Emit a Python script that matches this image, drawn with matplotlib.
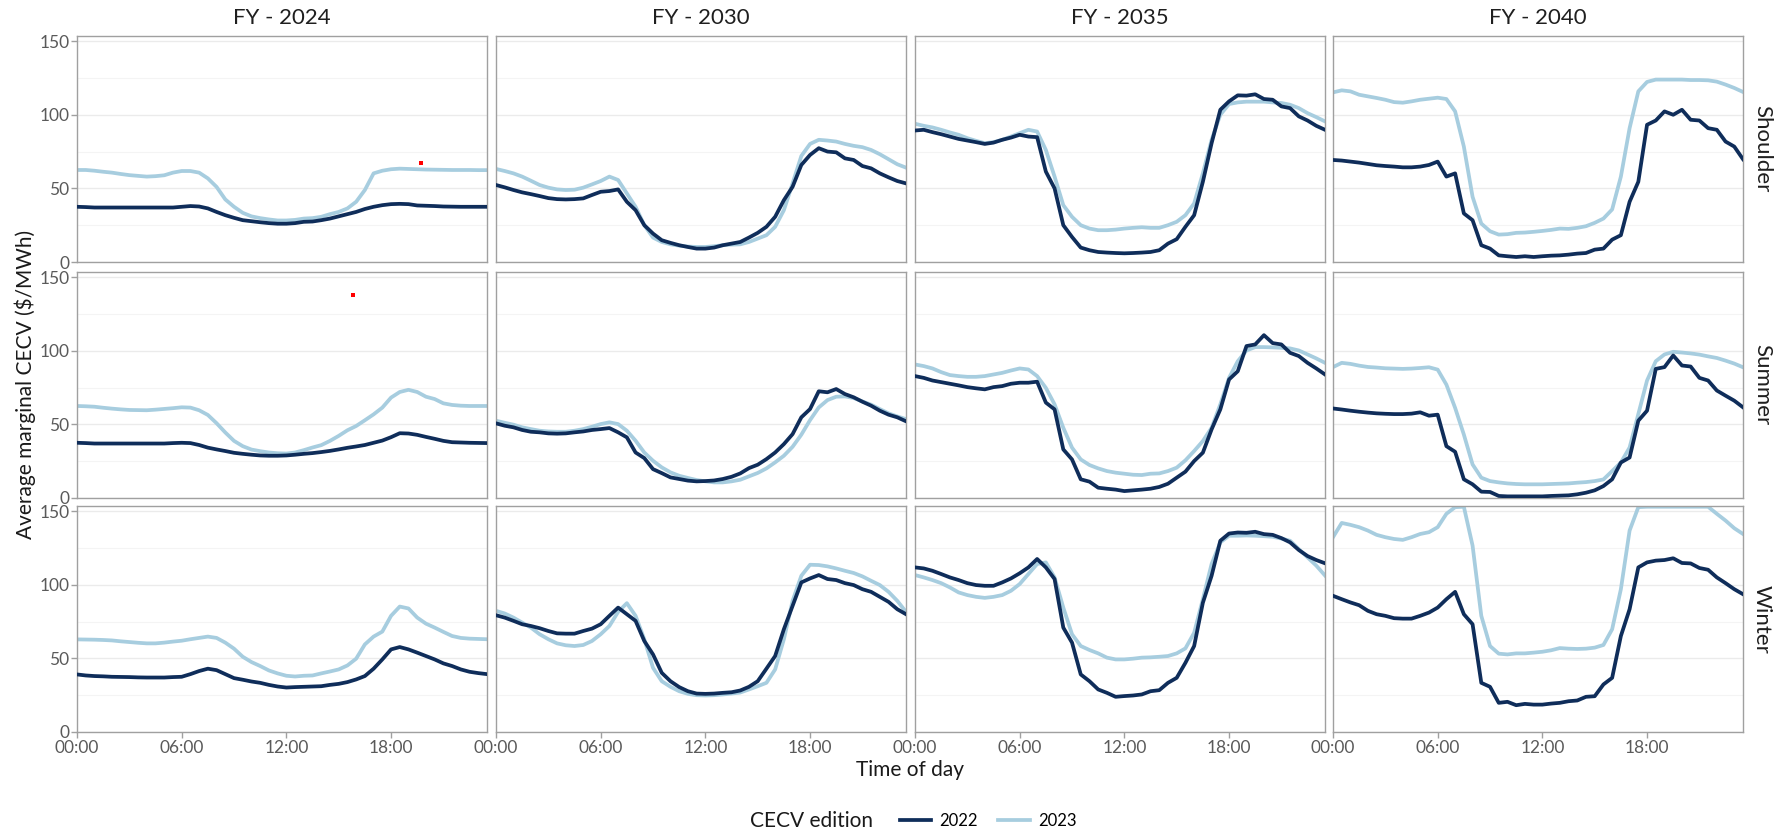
"""
CECV 日内プロファイル: 季節 x 年度 の 3x4 ファセット
"""
import numpy as np
import matplotlib
matplotlib.use("Agg")
import matplotlib.pyplot as plt

plt.rcParams["font.family"] = ["Lato", "DejaVu Sans"]

HOURS = np.arange(48) / 2  # 00:00 .. 23:30
YEARS = ["FY - 2024", "FY - 2030", "FY - 2035", "FY - 2040"]
SEASONS = ["Shoulder", "Summer", "Winter"]
EDITIONS = ["2022", "2023"]
X_TICKS = [0, 6, 12, 18]
X_TICK_LABELS = ["00:00", "06:00", "12:00", "18:00"]
Y_TICKS = [0, 50, 100, 150]

# --- Shoulder ---
shoulder_2024_e2022 = [37.5, 37.3, 37, 37, 37, 37, 37, 37, 37, 37, 37, 37,
                       37.5, 38, 37.7, 36.4, 34, 31.8, 30, 28.4, 27.7, 27, 26.4, 26,
                       26, 26.4, 27.3, 27.5, 28.4, 29.5, 31, 32.5, 34, 36, 37.5, 38.6,
                       39.3, 39.5, 39.3, 38.4, 38.2, 38, 37.7, 37.6, 37.5, 37.5, 37.5, 37.5]
shoulder_2024_e2023 = [62.5, 62.5, 62, 61.3, 60.7, 59.8, 59, 58.5, 58, 58.3, 58.9, 60.7,
                       61.8, 61.8, 60.7, 56.8, 51, 42.5, 37.5, 33.4, 31, 29.8, 28.9, 28.2,
                       28.2, 28.6, 29.5, 29.8, 30.7, 32.5, 34, 36.4, 40.9, 48.9, 60.2, 62,
                       63, 63.4, 63.2, 63, 62.8, 62.7, 62.6, 62.5, 62.5, 62.5, 62.4, 62.4]
shoulder_2030_e2022 = [52.3, 50.7, 48.9, 47.3, 46.1, 44.8, 43.4, 42.7, 42.5, 42.7, 43.2, 45.5,
                       47.7, 48.2, 49.3, 40.9, 35.2, 25, 19.3, 14.8, 13, 11.4, 10.2, 9.1,
                       9.1, 9.8, 11.4, 12.5, 13.6, 16.6, 19.8, 23.9, 30.7, 42, 51.1, 65.9,
                       72.7, 77.3, 75, 74.5, 70.4, 69.3, 65.2, 63.6, 60.2, 57.5, 55, 53.4]
shoulder_2030_e2023 = [63.2, 61.8, 60.2, 58, 55.2, 52.3, 50.5, 49.3, 48.9, 49.1, 50.5, 52.7,
                       55, 58, 55.7, 46.6, 37.5, 25, 16.6, 13.6, 12, 11.1, 10.5, 10.2,
                       10.2, 10.7, 11.4, 11.8, 12, 13.6, 15.9, 18.2, 23.9, 35.2, 53.4, 72,
                       80.2, 83, 82.5, 81.8, 80.2, 78.9, 78, 76.1, 73.2, 69.8, 66.4, 64.1]
shoulder_2035_e2022 = [89.3, 89.8, 88.2, 86.8, 85.2, 83.6, 82.5, 81.4, 80.2, 81.1, 83, 84.5,
                       86.4, 85.2, 84.8, 61.4, 50, 25, 17, 9.8, 8, 6.8, 6.4, 6.1,
                       5.9, 6.1, 6.4, 6.8, 8, 12.5, 15.5, 23.9, 31.8, 54.5, 80.7, 103.4,
                       109.1, 113.2, 113, 113.9, 110.7, 110.2, 105.7, 104.5, 98.9, 96.1, 92.5, 89.8]
shoulder_2035_e2023 = [93.9, 92.5, 91.4, 89.8, 88, 86.4, 84.1, 82.3, 80.7, 81.4, 83, 85.2,
                       87.5, 89.8, 88.6, 76.1, 58, 38.6, 30.7, 25, 22.7, 21.6, 21.6, 22,
                       22.7, 23.2, 23.6, 23.2, 23.2, 25, 27.3, 31.8, 39.8, 60.2, 83, 100,
                       107.3, 108.4, 108.9, 108.9, 108.9, 108.4, 108, 106.8, 104.5, 101.1, 98.4, 95.5]
shoulder_2040_e2022 = [69.3, 68.9, 68.2, 67.5, 66.6, 65.7, 65.2, 64.8, 64.3, 64.3, 64.8, 65.9,
                       68.2, 58, 60.2, 33, 28.4, 11.4, 9.1, 4.5, 3.9, 3.4, 3.9, 3.4,
                       3.9, 4.3, 4.5, 5, 5.7, 6.1, 8.4, 9.1, 15.2, 18.2, 40.9, 54.5,
                       93.2, 96.1, 102.3, 100, 103.4, 96.6, 96.1, 90.9, 89.8, 81.8, 78.4, 69.8]
shoulder_2040_e2023 = [115.2, 116.6, 115.9, 113.6, 112.5, 111.4, 110.2, 108.6, 108.2, 109.1, 110.2, 110.9,
                       111.6, 110.7, 102.3, 78.4, 44.3, 26.1, 20.9, 18.6, 18.9, 19.8, 20, 20.5,
                       21.1, 21.8, 22.7, 22.5, 23.2, 24.3, 26.6, 29.5, 35.7, 58, 90.9, 115.9,
                       122.3, 123.9, 123.9, 123.9, 123.9, 123.6, 123.6, 123.4, 122.5, 120.5, 118.2, 115.5]

# --- Summer ---
summer_2024_e2022 = [37.5, 37.3, 37, 37, 37, 37, 37, 37, 37, 37, 37, 37.3,
                     37.5, 37.3, 36, 34.2, 33, 31.9, 30.7, 30, 29.4, 28.9, 28.7, 28.7,
                     28.9, 29.4, 30, 30.5, 31.2, 32, 33, 34.1, 35, 36, 37.5, 39,
                     41.3, 44, 43.8, 42.9, 41.5, 40.2, 38.8, 37.9, 37.7, 37.5, 37.4, 37.3]
summer_2024_e2023 = [62.5, 62.3, 62, 61.3, 60.7, 60.2, 59.8, 59.7, 59.6, 60, 60.5, 61,
                     61.6, 61.4, 59.6, 56.4, 50.8, 44.5, 38.8, 35.2, 32.9, 31.8, 30.9, 30.4,
                     30.2, 30.9, 32.5, 34.3, 35.9, 38.8, 42.2, 46, 48.9, 52.8, 56.8, 61.4,
                     68.2, 72, 73.5, 72, 68.8, 67.2, 64.3, 63.2, 62.7, 62.5, 62.5, 62.5]
summer_2030_e2022 = [50.7, 49.1, 48, 46.2, 45, 44.6, 43.9, 43.7, 43.9, 44.6, 45.2, 46.2,
                     46.8, 47.5, 44.6, 41.2, 30.9, 27.1, 19.6, 16.9, 14, 12.9, 11.8, 11.3,
                     11.5, 11.9, 12.9, 14.4, 16.7, 20.3, 22.6, 26.4, 30.9, 36.6, 43.4, 54.8,
                     60.4, 72.5, 71.8, 74, 70.6, 68.4, 65.4, 62.7, 59.3, 56.6, 54.8, 52.1]
summer_2030_e2023 = [52.5, 51.1, 49.8, 48, 46.8, 45.7, 45.2, 45, 45, 45.7, 46.8, 48.4,
                     50.2, 51.4, 50.2, 45.7, 38.9, 30.9, 25.3, 20.8, 17.4, 15.1, 13.6, 12.2,
                     11.3, 10.6, 10.6, 11.3, 12.4, 14.7, 17, 20.1, 24.2, 28.7, 34.8, 43,
                     52.9, 61.5, 66.5, 68.8, 69, 67.9, 65.6, 63.4, 60.4, 57.5, 55.4, 53.6]
summer_2035_e2022 = [82.8, 81.6, 79.8, 78.7, 77.6, 76.5, 75.3, 74.5, 73.8, 75.3, 76, 77.6,
                     78.3, 78.3, 79, 64.8, 60.2, 33, 26.2, 12.7, 11.1, 7, 6.3, 5.7,
                     4.7, 5.2, 5.7, 6.3, 7.5, 9.7, 13.8, 17.9, 25.1, 30.8, 46.6, 60.2,
                     80.5, 86.1, 103.2, 104.3, 110.6, 105.2, 104.3, 98.6, 96.4, 91.8, 88, 83.9]
summer_2035_e2023 = [90.7, 89.6, 88, 85.5, 83.5, 82.8, 82.3, 82.3, 82.8, 83.9, 85, 86.6,
                     88, 87.3, 82.8, 74.8, 63.6, 47.7, 34.2, 26.2, 22.4, 20.1, 18.3, 17.2,
                     16.5, 15.8, 15.6, 16.5, 16.7, 18.3, 20.6, 25.6, 31.9, 38.7, 47.7, 63.6,
                     81.6, 92.9, 100.2, 102.5, 102.5, 102.3, 102, 101.6, 100.2, 97.5, 94.8, 91.8]
summer_2040_e2022 = [60.8, 60.1, 59.3, 58.6, 58, 57.5, 57.2, 57, 57, 57.3, 58.2, 55.9,
                     56.6, 35.2, 31.4, 12.7, 9.3, 4.3, 4.1, 1.4, 1.1, 1.1, 1.1, 1.1,
                     1.1, 1.4, 1.6, 1.8, 2.5, 3.6, 5.2, 8.1, 12.7, 24.1, 27.5, 52.5,
                     59.3, 87.7, 88.9, 96.8, 90, 89.3, 81.6, 79.8, 73, 69.5, 66.1, 61.6]
summer_2040_e2023 = [88.9, 91.8, 91.1, 89.9, 89, 88.6, 88.1, 87.9, 87.7, 87.9, 88.3, 88.8,
                     87.2, 77, 61.2, 43.1, 22.8, 13.8, 11.5, 10.6, 9.9, 9.5, 9.3, 9.3,
                     9.3, 9.5, 9.7, 9.9, 10.4, 10.8, 11.5, 12.6, 18.3, 24.1, 34.3, 57,
                     79.8, 92.9, 97.5, 99.3, 98.8, 98.2, 97.4, 96.2, 95.1, 93.3, 91.3, 88.8]

# --- Winter ---
winter_2024_e2022 = [39.1, 38.4, 38, 37.8, 37.5, 37.4, 37.3, 37.1, 37, 37, 37, 37.3,
                     37.5, 39.3, 41.4, 43, 42, 39.3, 36.6, 35.5, 34.3, 33.4, 32, 30.9,
                     30.2, 30.5, 30.7, 30.9, 31.1, 32, 32.7, 33.9, 35.7, 38, 43, 49.3,
                     56.1, 57.7, 56.1, 53.9, 51.6, 49.3, 46.6, 44.8, 42.5, 40.9, 40, 39.3]
winter_2024_e2023 = [62.9, 62.8, 62.7, 62.5, 62.2, 61.6, 61.1, 60.6, 60.2, 60.2, 60.7, 61.4,
                     62, 63, 63.9, 64.8, 63.9, 60.7, 56.6, 51.1, 47.5, 44.8, 41.8, 39.8,
                     38.2, 37.7, 38.2, 38.4, 39.8, 41.1, 42.5, 45.2, 49.8, 59.5, 64.8, 68.2,
                     78.9, 85.2, 83.9, 77.7, 73.6, 70.9, 68, 65.2, 63.9, 63.4, 63.2, 63]
winter_2030_e2022 = [79.3, 77.7, 75.5, 73.2, 72, 70.5, 68.6, 67, 66.8, 66.8, 68.6, 70.2,
                     73.2, 78.9, 84.5, 80, 75.5, 61.8, 52.7, 40.2, 34.5, 30.5, 27.7, 26.1,
                     25.9, 26.1, 26.6, 27, 28.2, 30.7, 34.5, 43, 51.6, 69.8, 85.7, 101.6,
                     104.3, 106.6, 103.9, 103.2, 101.1, 99.8, 97, 95.2, 91.8, 88.4, 83.4, 80]
winter_2030_e2023 = [82.3, 80.5, 77.7, 74.3, 70.9, 66.4, 63, 60.2, 58.9, 58.4, 59.1, 61.8,
                     66.4, 72, 81.6, 87.5, 78.9, 63, 43.6, 34.5, 30.7, 27.7, 25.9, 25,
                     24.8, 25, 25.5, 26.1, 26.8, 28.9, 31.1, 33.4, 42.5, 63, 89.1, 106.1,
                     113.6, 113.4, 112.5, 111.1, 109.5, 108, 105.7, 102.7, 99.8, 95.2, 89.1, 81.6]
winter_2035_e2022 = [111.8, 111.1, 109.5, 107.3, 105, 103.2, 101.1, 99.8, 99.3, 99.3, 101.6, 104.3,
                     107.8, 111.8, 117.5, 111.8, 103.9, 70.9, 60.7, 39.1, 34.5, 28.9, 26.6, 23.9,
                     24.4, 24.8, 25.5, 27.7, 28.4, 33.4, 36.8, 47, 58.4, 87.8, 106.1, 129.9,
                     134.8, 135.5, 135.3, 136, 134.4, 133.9, 131.7, 128.8, 123.6, 119.5, 116.8, 114.6]
winter_2035_e2023 = [106.6, 105, 103.2, 101.1, 98.2, 94.8, 93, 91.8, 91.1, 91.8, 93, 95.9,
                     100.5, 107.3, 114.1, 115.2, 105, 84.5, 66.4, 58.4, 55.7, 53.4, 50.5, 49.3,
                     49.3, 49.8, 50.5, 50.7, 51.1, 51.6, 53.4, 56.8, 67.4, 90.2, 114.1, 128.8,
                     133.3, 133.3, 133.5, 133.3, 133, 132.6, 131.4, 129.9, 124.2, 118.6, 113, 106.3]
winter_2040_e2022 = [92.5, 90.2, 88, 86.1, 82.3, 80, 78.9, 77.3, 77, 77, 78.9, 81.1,
                     84.5, 90.2, 95.2, 80, 73.2, 33.4, 30.7, 19.8, 20.5, 18.2, 19.1, 18.6,
                     18.6, 19.3, 19.8, 20.9, 21.4, 23.9, 24.3, 32.3, 36.8, 65.2, 83.4, 111.8,
                     115.2, 116.4, 116.8, 118, 114.8, 114.5, 111.4, 110.2, 105, 101.1, 97, 93.6]
winter_2040_e2023 = [132.3, 142, 140.7, 139.1, 136.8, 133.9, 132.3, 131.1, 130.5, 132.3, 134.5, 135.7,
                     139.1, 148.2, 152.7, 153, 126.6, 78.9, 58.4, 53.2, 52.7, 53.4, 53.4, 53.9,
                     54.5, 55.5, 57, 56.6, 56.4, 56.6, 57.3, 59.1, 69.8, 97, 136.8, 152.7,
                     153, 153, 153, 153, 153, 153, 153, 153, 148.2, 143.6, 138.4, 134.5]

# 赤い小点（元図にある注記点）
marker_shoulder_2024 = ([19.7], [67.3])
marker_summer_2024 = ([15.8], [138.2])

SERIES = {
    ("Shoulder", 0): (shoulder_2024_e2022, shoulder_2024_e2023),
    ("Shoulder", 1): (shoulder_2030_e2022, shoulder_2030_e2023),
    ("Shoulder", 2): (shoulder_2035_e2022, shoulder_2035_e2023),
    ("Shoulder", 3): (shoulder_2040_e2022, shoulder_2040_e2023),
    ("Summer", 0): (summer_2024_e2022, summer_2024_e2023),
    ("Summer", 1): (summer_2030_e2022, summer_2030_e2023),
    ("Summer", 2): (summer_2035_e2022, summer_2035_e2023),
    ("Summer", 3): (summer_2040_e2022, summer_2040_e2023),
    ("Winter", 0): (winter_2024_e2022, winter_2024_e2023),
    ("Winter", 1): (winter_2030_e2022, winter_2030_e2023),
    ("Winter", 2): (winter_2035_e2022, winter_2035_e2023),
    ("Winter", 3): (winter_2040_e2022, winter_2040_e2023),
}
MARKERS = {("Shoulder", 0): marker_shoulder_2024, ("Summer", 0): marker_summer_2024}

COLORS = {"2022": "#0F2D5A", "2023": "#A7CDDF"}
BORDER = "#A0A0A0"

W, H = 1776, 835
PANEL_LEFT = [77, 496, 915, 1333]
PANEL_TOP = [36, 272, 506]
PANEL_W, PANEL_H = 410, 226


def px_rect(left, top, w, h):
    return [left / W, 1 - (top + h) / H, w / W, h / H]


fig = plt.figure(figsize=(W / 100, H / 100), dpi=100)
handles = []

for r, season in enumerate(SEASONS):
    for c, year in enumerate(YEARS):
        ax = fig.add_axes(px_rect(PANEL_LEFT[c], PANEL_TOP[r], PANEL_W, PANEL_H))
        e22, e23 = SERIES[(season, c)]
        l1, = ax.plot(HOURS, e22, color=COLORS["2022"], lw=2.7, label="2022",
                      solid_joinstyle="round", zorder=3)
        l2, = ax.plot(HOURS, e23, color=COLORS["2023"], lw=2.7, label="2023",
                      solid_joinstyle="round", zorder=2)
        if not handles:
            handles = [l1, l2]
        if (season, c) in MARKERS:
            mx, my = MARKERS[(season, c)]
            ax.scatter(mx, my, s=5, marker="s", color="red", lw=0, zorder=4)

        ax.set_xlim(0, 23.5)
        ax.set_ylim(0, 153.5)
        ax.set_xticks(X_TICKS)
        ax.set_yticks(Y_TICKS)
        ax.set_yticks([25, 75, 125], minor=True)
        ax.grid(axis="y", which="major", color="#EBEBEB", lw=1.0)
        ax.grid(axis="y", which="minor", color="#F4F4F4", lw=0.8)
        ax.set_axisbelow(True)
        for sp in ax.spines.values():
            sp.set_color(BORDER)
            sp.set_linewidth(1.0)
        ax.tick_params(which="minor", length=0)
        ax.tick_params(which="major", color=BORDER, length=4, width=1,
                       labelcolor="#5A5A5A", labelsize=12.5, pad=1.5)

        if c == 0:
            ax.set_yticklabels([str(v) for v in Y_TICKS])
        else:
            ax.tick_params(axis="y", length=0, labelleft=False)
        if r == len(SEASONS) - 1:
            ax.set_xticklabels(X_TICK_LABELS)
        else:
            ax.tick_params(axis="x", length=0, labelbottom=False)

        # ファセットのストリップ
        if r == 0:
            fig.text((PANEL_LEFT[c] + PANEL_W / 2) / W, 1 - 18 / H, year,
                     ha="center", va="center", fontsize=16, color="#1F1F1F")
        if c == len(YEARS) - 1:
            fig.text(1762 / W, 1 - (PANEL_TOP[r] + PANEL_H / 2) / H, season,
                     ha="center", va="center", rotation=-90, fontsize=16, color="#1F1F1F")

fig.text(25 / W, 1 - 384 / H, "Average marginal CECV ($/MWh)", rotation=90,
         ha="center", va="center", fontsize=15, color="#1A1A1A")
fig.text(910 / W, 1 - 770 / H, "Time of day", ha="center", va="center",
         fontsize=15, color="#1A1A1A")

# 凡例（タイトルは左側に横並び）
LEG_Y = 1 - 821 / H
fig.text(750 / W, LEG_Y, "CECV edition", ha="left", va="center",
         fontsize=15, color="#1A1A1A")
fig.legend(handles, EDITIONS, loc="center left", bbox_to_anchor=(893 / W, LEG_Y),
           ncol=2, frameon=False, fontsize=12, handlelength=1.9, handletextpad=0.5,
           columnspacing=1.2, borderaxespad=0)

fig.savefig("out.png", dpi=100)
plt.close(fig)
